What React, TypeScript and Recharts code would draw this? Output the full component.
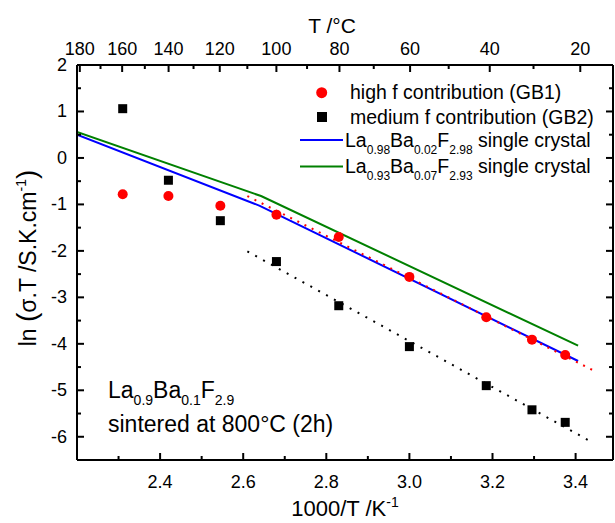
import React from 'react';
import { ComposedChart, XAxis, YAxis, Line, Scatter, Legend, Label } from 'recharts';

// measured points, x = 1000/T
const sampleX = [2.31, 2.42, 2.545, 2.68, 2.83, 3.0, 3.185, 3.295, 3.375];
const gb1Values = [-0.78, -0.82, -1.03, -1.22, -1.7, -2.56, -3.43, -3.91, -4.24];
const gb2Values = [1.06, -0.48, -1.35, -2.23, -3.18, -4.06, -4.9, -5.42, -5.69];

// single crystal reference curves
const crystal002X = [2.2, 2.64, 3.406];
const crystal002Y = [0.5, -1.03, -4.37];
const crystal007X = [2.2, 2.643, 3.406];
const crystal007Y = [0.56, -0.82, -4.04];

// linear fits
const fitX = [2.61, 3.44];
const gb1FitY = [-0.82, -4.56];
const gb2FitY = [-2.01, -6.12];

const xTicks = [2.3, 2.4, 2.5, 2.6, 2.7, 2.8, 2.9, 3.0, 3.1, 3.2, 3.3, 3.4];
const yTicks = [-6, -5.5, -5, -4.5, -4, -3.5, -3, -2.5, -2, -1.5, -1, -0.5, 0, 0.5, 1, 1.5, 2];
const tempTicksC = [180, 170, 160, 150, 140, 130, 120, 110, 100, 90, 80, 70, 60, 50, 40, 30, 20];

const FONT = 'Liberation Sans, Arial, sans-serif';

const zip = (xs: number[], ys: number[]) => xs.map((x, i) => ({ x, y: ys[i] }));
const gb1Data = zip(sampleX, gb1Values);
const gb2Data = zip(sampleX, gb2Values);
const blueData = zip(crystal002X, crystal002Y);
const greenData = zip(crystal007X, crystal007Y);
const gb1Fit = zip(fitX, gb1FitY);
const gb2Fit = zip(fitX, gb2FitY);
const topTicks = tempTicksC.map((c) => 1000 / (c + 273.15));

const isMajorX = (v: number) => Math.abs(v * 5 - Math.round(v * 5)) < 1e-6;

const BottomTick = ({ x, y, payload }: any) => {
  const major = isMajorX(payload.value);
  return (
    <g>
      <line x1={x} x2={x} y1={y} y2={y - (major ? 7 : 4)} stroke="#000" strokeWidth={2} />
      {major && (
        <text x={x} y={y + 28} textAnchor="middle" fontSize={18} fontFamily={FONT} fill="#000">
          {payload.value.toFixed(1)}
        </text>
      )}
    </g>
  );
};

const TopTick = ({ x, y, payload }: any) => {
  const c = Math.round(1000 / payload.value - 273.15);
  const major = c % 20 === 0;
  return (
    <g>
      <line x1={x} x2={x} y1={y} y2={y + (major ? 7 : 4)} stroke="#000" strokeWidth={2} />
      {major && (
        <text x={x} y={y - 10} textAnchor="middle" fontSize={18} fontFamily={FONT} fill="#000">
          {c}
        </text>
      )}
    </g>
  );
};

const LeftTick = ({ x, y, payload }: any) => {
  const major = Number.isInteger(payload.value);
  return (
    <g>
      <line x1={x} x2={x + (major ? 7 : 4)} y1={y} y2={y} stroke="#000" strokeWidth={2} />
      {major && (
        <text x={x - 10} y={y + 6} textAnchor="end" fontSize={18} fontFamily={FONT} fill="#000">
          {payload.value}
        </text>
      )}
    </g>
  );
};

const RightTick = ({ x, y, payload }: any) => {
  const major = Number.isInteger(payload.value);
  return <line x1={x} x2={x - (major ? 7 : 4)} y1={y} y2={y} stroke="#000" strokeWidth={2} />;
};

const XTitle = () => (
  <text x={345} y={516} textAnchor="middle" fontSize={22} fontFamily={FONT} fill="#000">
    1000/T /K<tspan fontSize={14} dy={-9}>-1</tspan>
  </text>
);

const TopTitle = () => (
  <text x={332} y={33} textAnchor="middle" fontSize={21} fontFamily={FONT} fill="#000">
    T /°C
  </text>
);

const YTitle = () => (
  <text x={0} y={0} transform="translate(36,258) rotate(-90)" textAnchor="middle" fontSize={23} fontFamily={FONT} fill="#000">
    ln <tspan fontSize={28}>(</tspan>σ.T /S.K.cm<tspan fontSize={14} dy={-10}>-1</tspan>
    <tspan fontSize={28} dy={10}>)</tspan>
  </text>
);

const LegendBox = () => {
  const ox = 290;
  const oy = 75;
  const sub = { size: 12, dy: 7 };
  return (
    <svg width={325} height={110} style={{ display: 'block' }}>
      <circle cx={321.7 - ox} cy={92.7 - oy} r={5.5} fill="#ff0000" />
      <text x={350 - ox} y={99 - oy} fontSize={19.5} fontFamily={FONT}>high f contribution (GB1)</text>
      <rect x={317 - ox} y={112 - oy} width={10} height={10} fill="#000" />
      <text x={350 - ox} y={123.5 - oy} fontSize={19.5} fontFamily={FONT}>medium f contribution (GB2)</text>
      <line x1={300 - ox} x2={343 - ox} y1={140 - oy} y2={140 - oy} stroke="#0000ff" strokeWidth={2} />
      <text x={345 - ox} y={147 - oy} fontSize={19.5} fontFamily={FONT}>
        La<tspan fontSize={sub.size} dy={sub.dy}>0.98</tspan>
        <tspan dy={-sub.dy}>Ba</tspan><tspan fontSize={sub.size} dy={sub.dy}>0.02</tspan>
        <tspan dy={-sub.dy}>F</tspan><tspan fontSize={sub.size} dy={sub.dy}>2.98</tspan>
        <tspan dy={-sub.dy}> single crystal</tspan>
      </text>
      <line x1={300 - ox} x2={343 - ox} y1={166.5 - oy} y2={166.5 - oy} stroke="#008000" strokeWidth={2} />
      <text x={345 - ox} y={173 - oy} fontSize={19.5} fontFamily={FONT}>
        La<tspan fontSize={sub.size} dy={sub.dy}>0.93</tspan>
        <tspan dy={-sub.dy}>Ba</tspan><tspan fontSize={sub.size} dy={sub.dy}>0.07</tspan>
        <tspan dy={-sub.dy}>F</tspan><tspan fontSize={sub.size} dy={sub.dy}>2.93</tspan>
        <tspan dy={-sub.dy}> single crystal</tspan>
      </text>
    </svg>
  );
};

const frame = { stroke: '#000', strokeWidth: 2 };

export default function App() {
  return (
    <div style={{ position: 'relative', width: 615, height: 523, background: '#fff' }}>
      <style>{'body{margin:0}'}</style>
      <ComposedChart width={615} height={523} margin={{ top: 64, right: 1, bottom: 62, left: 76 }}>
        <XAxis
          xAxisId="bottom"
          dataKey="x"
          type="number"
          domain={[2.2, 3.49]}
          allowDataOverflow
          ticks={xTicks}
          interval={0}
          height={1}
          tickSize={0}
          tickMargin={0}
          tick={BottomTick}
          tickLine={false}
          axisLine={frame}
        >
          <Label content={XTitle} />
        </XAxis>
        <XAxis
          xAxisId="top"
          orientation="top"
          dataKey="x"
          type="number"
          domain={[2.2, 3.49]}
          allowDataOverflow
          ticks={topTicks}
          interval={0}
          height={1}
          tickSize={0}
          tickMargin={0}
          tick={TopTick}
          tickLine={false}
          axisLine={frame}
        >
          <Label content={TopTitle} />
        </XAxis>
        <YAxis
          yAxisId="left"
          type="number"
          domain={[-6.5, 2]}
          allowDataOverflow
          ticks={yTicks}
          interval={0}
          width={1}
          tickSize={0}
          tickMargin={0}
          tick={LeftTick}
          tickLine={false}
          axisLine={frame}
        >
          <Label content={YTitle} />
        </YAxis>
        <YAxis
          yAxisId="right"
          orientation="right"
          type="number"
          domain={[-6.5, 2]}
          allowDataOverflow
          ticks={yTicks}
          interval={0}
          width={1}
          tickSize={0}
          tickMargin={0}
          tick={RightTick}
          tickLine={false}
          axisLine={frame}
        />
        <Line data={greenData} dataKey="y" xAxisId="bottom" yAxisId="left" type="linear" stroke="#008000" strokeWidth={2} dot={false} isAnimationActive={false} />
        <Line data={blueData} dataKey="y" xAxisId="bottom" yAxisId="left" type="linear" stroke="#0000ff" strokeWidth={2} dot={false} isAnimationActive={false} />
        <Line data={gb1Fit} dataKey="y" xAxisId="bottom" yAxisId="left" type="linear" stroke="#ff0000" strokeWidth={2} strokeDasharray="2 6" dot={false} isAnimationActive={false} />
        <Line data={gb2Fit} dataKey="y" xAxisId="bottom" yAxisId="left" type="linear" stroke="#000" strokeWidth={2} strokeDasharray="2 7" dot={false} isAnimationActive={false} />
        <Scatter
          data={gb1Data}
          dataKey="y"
          xAxisId="bottom"
          yAxisId="left"
          isAnimationActive={false}
          shape={(p: any) => <circle cx={p.cx} cy={p.cy} r={5} fill="#ff0000" />}
        />
        <Scatter
          data={gb2Data}
          dataKey="y"
          xAxisId="bottom"
          yAxisId="left"
          isAnimationActive={false}
          shape={(p: any) => <rect x={p.cx - 4.5} y={p.cy - 4.5} width={9} height={9} fill="#000" />}
        />
        <Legend
          layout="vertical"
          align="center"
          verticalAlign="middle"
          content={LegendBox}
          wrapperStyle={{ left: 290, top: 75, width: 325, height: 110 }}
        />
      </ComposedChart>
      <svg width={300} height={80} style={{ position: 'absolute', left: 100, top: 370, pointerEvents: 'none' }}>
        <text x={8} y={28} fontSize={23} fontFamily={FONT}>
          La<tspan fontSize={14} dy={7}>0.9</tspan>
          <tspan dy={-7}>Ba</tspan><tspan fontSize={14} dy={7}>0.1</tspan>
          <tspan dy={-7}>F</tspan><tspan fontSize={14} dy={7}>2.9</tspan>
        </text>
        <text x={8} y={62} fontSize={23} fontFamily={FONT}>sintered at 800°C (2h)</text>
      </svg>
    </div>
  );
}
